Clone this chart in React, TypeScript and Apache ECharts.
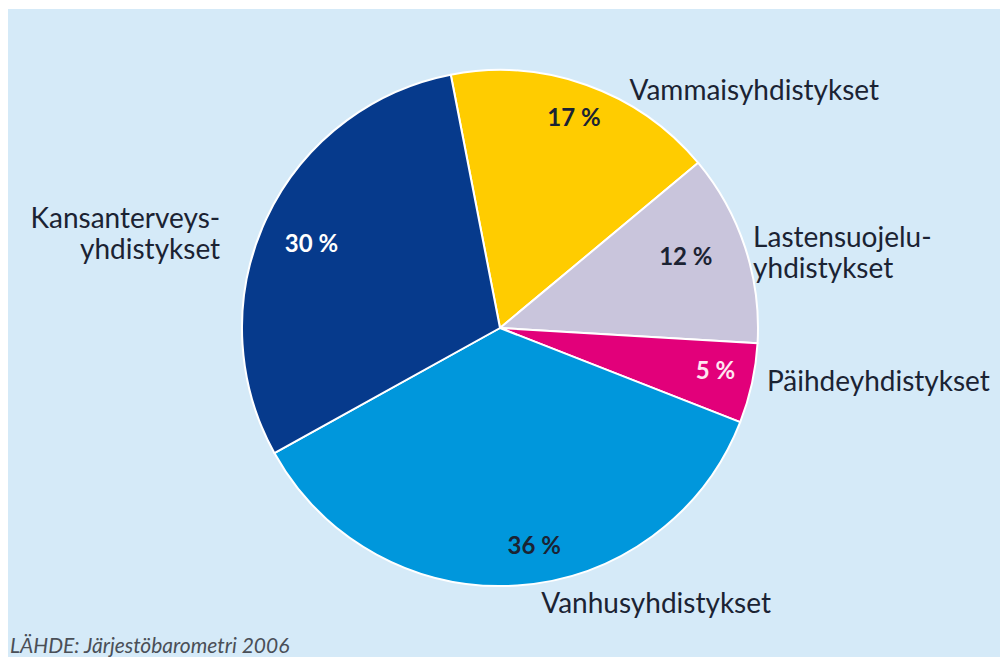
import React, { useEffect, useRef } from "react";
import * as echarts from "echarts";

const categories = [
  "Vammaisyhdistykset",
  "Lastensuojelu-\nyhdistykset",
  "Päihdeyhdistykset",
  "Vanhusyhdistykset",
  "Kansanterveys-\nyhdistykset",
];
const values = [17, 12, 5, 36, 30];
const percentLabels = ["17 %", "12 %", "5 %", "36 %", "30 %"];
const sourceText = "LÄHDE: Järjestöbarometri 2006";

const colors = ["#ffcc00", "#c9c5dc", "#e2007a", "#0097dc", "#063a8c"];
const percentColors = ["#1b2333", "#1b2333", "#ffe6f2", "#1b2333", "#ffffff"];
// label line lengths (length, length2) and nudges for outside names
const nameLine = [
  [0, 38],
  [0, 3],
  [0, 10],
  [18, 18],
  [0, 41],
];
const nameNudge = [
  [0, 4],
  [0, 4],
  [0, -3],
  [0, -1],
  [0, 14],
];
const pctNudge = [
  [2, -9],
  [-18, -5],
  [6, -5],
  [20, 2],
  [6, 5],
];

export default function App() {
  const ref = useRef<HTMLDivElement>(null);
  useEffect(() => {
    if (!ref.current) return;
    const chart = echarts.init(ref.current, null, { renderer: "svg" });
    const center = [492, 319];
    const R = 258;
    chart.setOption({
      animation: false,
      backgroundColor: "#d5eaf8",
      textStyle: { fontFamily: "Lato" },
      graphic: [
        {
          type: "text",
          left: 2,
          top: 625,
          style: {
            text: sourceText,
            fontFamily: "Lato",
            fontStyle: "italic",
            fontSize: 21,
            fill: "#4a4f57",
          },
        },
      ],
      series: [
        {
          type: "pie",
          left: 0,
          top: 0,
          width: 1600,
          height: 649,
          center,
          radius: R,
          startAngle: 101,
          clockwise: true,
          avoidLabelOverlap: false,
          silent: true,
          itemStyle: { borderColor: "#ffffff", borderWidth: 2 },
          label: {
            show: true,
            position: "outside",
            fontFamily: "Lato",
            fontSize: 28,
            color: "#1b2333",
            lineHeight: 31,
            overflow: "none",
            formatter: (p: any) => p.name,
          },
          labelLine: { show: false },
          labelLayout: (p: any) => ({
            dx: nameNudge[p.dataIndex][0],
            dy: nameNudge[p.dataIndex][1],
          }),
          data: categories.map((c, i) => ({
            name: c,
            value: values[i],
            itemStyle: { color: colors[i] },
            labelLine: { show: false, length: nameLine[i][0], length2: nameLine[i][1] },
            label: { textAlign: i === 4 ? "right" : "left" },
          })),
        },
        {
          type: "pie",
          left: 0,
          top: 0,
          width: 1600,
          height: 649,
          center,
          radius: [0, R * 1.64],
          startAngle: 101,
          clockwise: true,
          silent: true,
          z: 5,
          itemStyle: { color: "rgba(0,0,0,0)", borderWidth: 0 },
          label: {
            show: true,
            position: "inside",
            fontFamily: "Lato",
            fontWeight: "bold",
            fontSize: 24,
            formatter: (p: any) => percentLabels[p.dataIndex],
          },
          labelLayout: (p: any) => ({
            dx: pctNudge[p.dataIndex][0],
            dy: pctNudge[p.dataIndex][1],
          }),
          labelLine: { show: false },
          data: categories.map((c, i) => ({
            name: c,
            value: values[i],
            label: { color: percentColors[i] },
          })),
        },
      ],
    });
    return () => chart.dispose();
  }, []);
  return (
    <div
      ref={ref}
      style={{ position: "fixed", left: 8, top: 9, width: 992, height: 648 }}
    />
  );
}
